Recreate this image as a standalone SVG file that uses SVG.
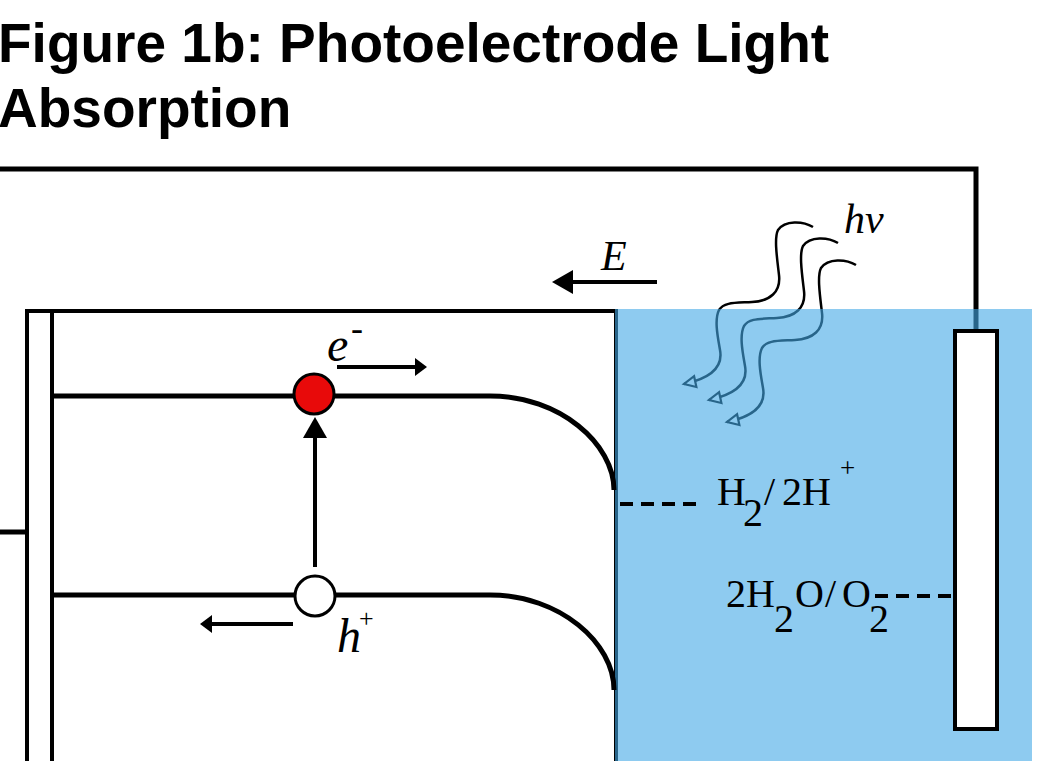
<svg xmlns="http://www.w3.org/2000/svg" width="1062" height="761" viewBox="0 0 1062 761">
<defs>
<style>
.title{font-family:"Liberation Sans",Arial,sans-serif;font-weight:bold;font-size:55px;fill:#000}
.it{font-family:"Liberation Serif","Times New Roman",serif;font-style:italic;fill:#000}
.chem{font-family:"Liberation Serif","Times New Roman",serif;font-size:40px;fill:#000}
.ln{fill:none;stroke:#000;stroke-width:4}
.band{fill:none;stroke:#000;stroke-width:5}
.wire{fill:none;stroke:#000;stroke-width:5}
.dash{fill:none;stroke:#000;stroke-width:4;stroke-dasharray:13 8}
.photon{fill:none;stroke:#000;stroke-width:2.5;marker-end:url(#openHead)}
.arrS{fill:none;stroke:#000;stroke-width:4;marker-end:url(#headS)}
.arrL{fill:none;stroke:#000;stroke-width:4;marker-end:url(#headL)}
</style>
<marker id="headS" markerUnits="userSpaceOnUse" markerWidth="12" markerHeight="18" refX="2" refY="9" orient="auto">
<path d="M0,0 L12,9 L0,18 Z" fill="#000"/>
</marker>
<marker id="headL" markerUnits="userSpaceOnUse" markerWidth="21" markerHeight="24" refX="2" refY="12" orient="auto">
<path d="M0,0 L21,12 L0,24 Z" fill="#000"/>
</marker>
<marker id="openHead" markerUnits="userSpaceOnUse" markerWidth="16" markerHeight="16" refX="13" refY="7" orient="auto" overflow="visible">
<path d="M1.5,1.5 L13,7 L1.5,12.5 Z" fill="#fff" stroke="#000" stroke-width="2.2"/>
</marker>
</defs>
<rect x="0" y="0" width="1062" height="761" fill="#fff"/>

<g id="title">
<text class="title" x="-2" y="62">Figure 1b: Photoelectrode Light</text>
<text class="title" x="-2" y="127">Absorption</text>
</g>

<g id="external-circuit">
<path class="wire" d="M0,169 H976 V331"/>
<path class="wire" d="M0,532 H27"/>
</g>

<g id="photoelectrode">
<path class="ln" d="M27,761 V311 H616 V761"/>
<path class="ln" d="M52,311 V761"/>
</g>

<g id="connectors">
<g id="photons">
<path class="photon" d="M813,227 C803,221 785,220 778,230 C774,238 777,258 779,275 C781,292 770,301 752,302 C735,303 724,302 719,310 C714,320 718,338 720,350 C723,366 712,378 684,384"/>
<path class="photon" transform="translate(25,16)" d="M813,227 C803,221 785,220 778,230 C774,238 777,258 779,275 C781,292 770,301 752,302 C735,303 724,302 719,310 C714,320 718,338 720,350 C723,366 712,378 684,384"/>
<path class="photon" transform="translate(43,38)" d="M813,227 C803,221 785,220 778,230 C774,238 777,258 779,275 C781,292 770,301 752,302 C735,303 724,302 719,310 C714,320 718,338 720,350 C723,366 712,378 684,384"/>
</g>
</g>

<g id="electrolyte">
<rect x="615" y="309" width="417" height="452" fill="rgb(67,168,230)" fill-opacity="0.6"/>
</g>

<g id="bands">
<path class="band" d="M52,396 H490 C560,396 614,444 614,490"/>
<path class="band" d="M52,595 H490 C560,595 614,643 614,690"/>
</g>

<g id="redox-levels">
<path class="dash" d="M620,504 H698"/>
<path class="dash" d="M875,596 H955"/>
<text class="chem"><tspan x="717" y="505">H</tspan><tspan x="743" y="526">2</tspan><tspan x="764" y="505">/</tspan><tspan x="782" y="505">2H</tspan><tspan x="840" y="477" font-size="27">+</tspan></text>
<text class="chem"><tspan x="726" y="607">2H</tspan><tspan x="774" y="632">2</tspan><tspan x="795" y="607">O</tspan><tspan x="825" y="607">/</tspan><tspan x="842" y="607">O</tspan><tspan x="869" y="632">2</tspan></text>
</g>

<g id="counter-electrode">
<rect x="955" y="331" width="42" height="398" fill="#fff" stroke="#000" stroke-width="4"/>
</g>

<g id="connectors-carriers">
<path class="arrL" d="M315,567 V436"/>
<path class="arrS" d="M337,367 H417"/>
<path class="arrS" d="M293,624 H210"/>
<path class="arrL" d="M657,282 H571"/>
</g>

<g id="electron">
<circle cx="314" cy="394" r="20" fill="#e80a0a" stroke="#000" stroke-width="3"/>
<text class="it" x="327" y="361" font-size="48">e<tspan x="351" y="340" font-size="36" font-style="normal">-</tspan></text>
</g>

<g id="hole">
<circle cx="315" cy="596" r="20" fill="#fff" stroke="#000" stroke-width="3"/>
<text class="it" x="337" y="652" font-size="48">h<tspan x="359" y="627" font-size="26" font-style="normal">+</tspan></text>
</g>

<g id="field-label">
<text class="it" x="601" y="270" font-size="42">E</text>
</g>

<g id="light-label">
<text class="it" x="844" y="233" font-size="42">hv</text>
</g>
</svg>
